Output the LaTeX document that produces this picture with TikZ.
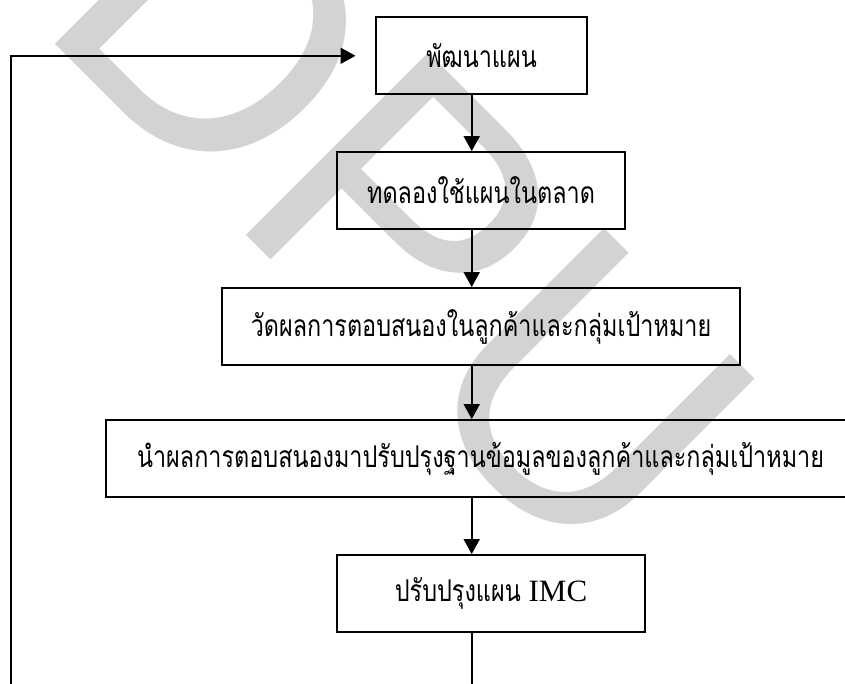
\documentclass[tikz,border=0pt]{standalone}
\usepackage{fontspec}
\newfontfamily\thaifont[Script=Thai,FakeStretch=0.78]{Loma}
\newfontfamily\latinserif{Liberation Serif}
\newfontfamily\wmfont{Liberation Sans}
\usetikzlibrary{arrows.meta}
\definecolor{wmgray}{RGB}{211,211,211}
\tikzset{
  stepbox/.style={draw, line width=1.8pt, inner sep=0pt, minimum height=77pt, font=\thaifont\fontsize{30}{34}\selectfont},
  conn/.style={line width=1.8pt},
  arr/.style={conn, -{Triangle[width=16pt,length=15pt]}},
}
\begin{document}
\begin{tikzpicture}[x=1pt,y=-1pt]
\useasboundingbox (0,0) rectangle (845,684);
\clip (0,0) rectangle (845,684);
% watermark
\node[text=wmgray, rotate=-45, anchor=base west, inner sep=0pt, font=\wmfont\fontsize{375}{375}\selectfont] (wm) at (33,22) {DPU};
% boxes
\node[stepbox, minimum width=211pt] (b1) at (481.5,55.8) {พัฒนาแผน};
\node[stepbox, minimum width=288pt] (b2) at (481,190.5) {ทดลองใช้แผนในตลาด};
\node[stepbox, minimum width=518.5pt] (b3) at (481,326.5) {วัดผลการตอบสนองในลูกค้าและกลุ่มเป้าหมาย};
\node[stepbox, minimum width=749pt] (b4) at (480.5,458.5) {นำผลการตอบสนองมาปรับปรุงฐานข้อมูลของลูกค้าและกลุ่มเป้าหมาย};
\node[stepbox, minimum width=308pt] (b5) at (491,593.5) {ปรับปรุงแผน {\latinserif\fontsize{31}{34}\selectfont IMC}};
% connectors
\coordinate (ax) at (471.7,0);
\draw[arr] (b1.south -| ax) -- (b2.north -| ax);
\draw[arr] (b2.south -| ax) -- (b3.north -| ax);
\draw[arr] (b3.south -| ax) -- (b4.north -| ax);
\draw[arr] (b4.south -| ax) -- (b5.north -| ax);
\coordinate (bend) at (471.7,690);
\draw[conn] (b5.south -| ax) -- (bend);
\coordinate (lstart) at (10.8,690);
\coordinate (ltip) at (355.5,55.8);
\draw[arr] (lstart) |- (ltip);
\end{tikzpicture}
\end{document}
